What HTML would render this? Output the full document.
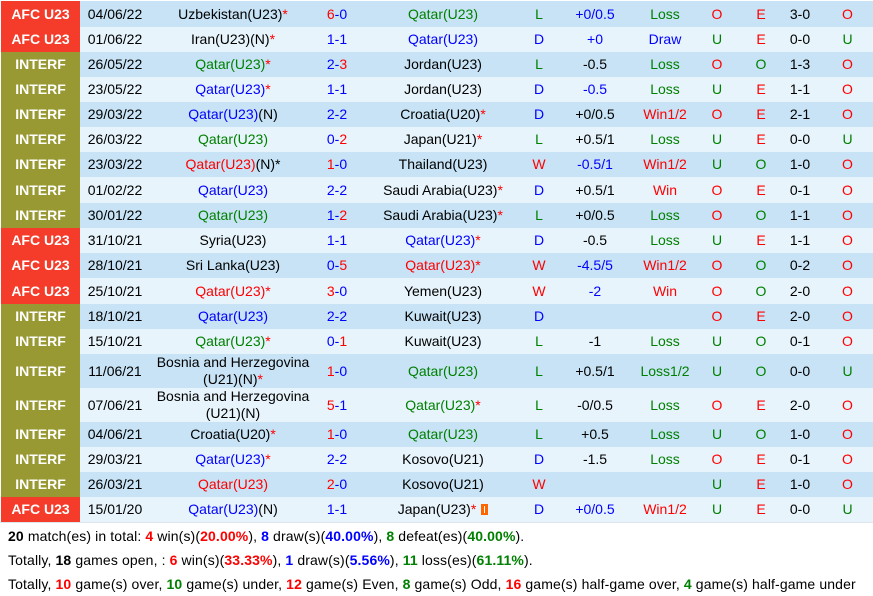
<!DOCTYPE html>
<html><head><meta charset="utf-8"><style>
*{margin:0;padding:0;box-sizing:border-box}
body{width:873px;height:592px;background:#fff;font-family:"Liberation Sans",Arial,sans-serif;font-size:14px;color:#000;overflow:hidden;position:relative}
table{position:absolute;left:1px;top:1px;border-collapse:collapse;table-layout:fixed;width:872px}
td{padding:0;text-align:center;vertical-align:middle;white-space:nowrap;line-height:17px;overflow:visible}
tr.d td{background:#c7e3f5}
tr.l td{background:#e7f4fc}
td.a{background:#f53b2a!important;color:#fff;font-weight:bold}
td.i{background:#999933!important;color:#fff;font-weight:bold}
.r{color:#f00}.b{color:#00f}.g{color:#008000}.k{color:#000}
.ic{display:inline-block;width:7px;height:11px;background:#f60;vertical-align:-1px;margin-left:5px;position:relative}
.ic:after{content:"";position:absolute;left:3px;top:2px;width:1px;height:7px;background:#fff}
.bl{position:absolute;left:0;top:522px;width:873px;height:1px;background:#dde6ec}
.t{position:absolute;left:8px;white-space:nowrap;line-height:24px;letter-spacing:0.12px}
.t b{font-weight:bold}
</style></head><body>
<table>
<colgroup><col style="width:79px"><col style="width:70px"><col style="width:166px"><col style="width:42px"><col style="width:170px"><col style="width:22px"><col style="width:90px"><col style="width:50px"><col style="width:54px"><col style="width:34px"><col style="width:44px"><col style="width:51px"></colgroup>
<tr class="d" style="height:26px"><td class="a">AFC U23</td><td>04/06/22</td><td>Uzbekistan(U23)<span class="r">*</span></td><td><span class="r">6</span><span class="b">-0</span></td><td class="g">Qatar(U23)</td><td class="g">L</td><td class="b">+0/0.5</td><td class="g">Loss</td><td class="r">O</td><td class="r">E</td><td>3-0</td><td class="r">O</td></tr>
<tr class="l" style="height:25px"><td class="a">AFC U23</td><td>01/06/22</td><td>Iran(U23)(N)<span class="r">*</span></td><td class="b">1-1</td><td class="b">Qatar(U23)</td><td class="b">D</td><td class="b">+0</td><td class="b">Draw</td><td class="g">U</td><td class="r">E</td><td>0-0</td><td class="g">U</td></tr>
<tr class="d" style="height:25px"><td class="i">INTERF</td><td>26/05/22</td><td><span class="g">Qatar(U23)</span><span class="r">*</span></td><td><span class="b">2-</span><span class="r">3</span></td><td>Jordan(U23)</td><td class="g">L</td><td>-0.5</td><td class="g">Loss</td><td class="r">O</td><td class="g">O</td><td>1-3</td><td class="r">O</td></tr>
<tr class="l" style="height:25px"><td class="i">INTERF</td><td>23/05/22</td><td><span class="b">Qatar(U23)</span><span class="r">*</span></td><td class="b">1-1</td><td>Jordan(U23)</td><td class="b">D</td><td class="b">-0.5</td><td class="g">Loss</td><td class="g">U</td><td class="r">E</td><td>1-1</td><td class="r">O</td></tr>
<tr class="d" style="height:25px"><td class="i">INTERF</td><td>29/03/22</td><td><span class="b">Qatar(U23)</span>(N)</td><td class="b">2-2</td><td>Croatia(U20)<span class="r">*</span></td><td class="b">D</td><td>+0/0.5</td><td class="r">Win1/2</td><td class="r">O</td><td class="r">E</td><td>2-1</td><td class="r">O</td></tr>
<tr class="l" style="height:25px"><td class="i">INTERF</td><td>26/03/22</td><td class="g">Qatar(U23)</td><td><span class="b">0-</span><span class="r">2</span></td><td>Japan(U21)<span class="r">*</span></td><td class="g">L</td><td>+0.5/1</td><td class="g">Loss</td><td class="g">U</td><td class="r">E</td><td>0-0</td><td class="g">U</td></tr>
<tr class="d" style="height:25px"><td class="i">INTERF</td><td>23/03/22</td><td><span class="r">Qatar(U23)</span>(N)*</td><td><span class="r">1</span><span class="b">-0</span></td><td>Thailand(U23)</td><td class="r">W</td><td class="b">-0.5/1</td><td class="r">Win1/2</td><td class="g">U</td><td class="g">O</td><td>1-0</td><td class="r">O</td></tr>
<tr class="l" style="height:26px"><td class="i">INTERF</td><td>01/02/22</td><td class="b">Qatar(U23)</td><td class="b">2-2</td><td>Saudi Arabia(U23)<span class="r">*</span></td><td class="b">D</td><td>+0.5/1</td><td class="r">Win</td><td class="r">O</td><td class="r">E</td><td>0-1</td><td class="r">O</td></tr>
<tr class="d" style="height:25px"><td class="i">INTERF</td><td>30/01/22</td><td class="g">Qatar(U23)</td><td><span class="b">1-</span><span class="r">2</span></td><td>Saudi Arabia(U23)<span class="r">*</span></td><td class="g">L</td><td>+0/0.5</td><td class="g">Loss</td><td class="r">O</td><td class="g">O</td><td>1-1</td><td class="r">O</td></tr>
<tr class="l" style="height:25px"><td class="a">AFC U23</td><td>31/10/21</td><td>Syria(U23)</td><td class="b">1-1</td><td><span class="b">Qatar(U23)</span><span class="r">*</span></td><td class="b">D</td><td>-0.5</td><td class="g">Loss</td><td class="g">U</td><td class="r">E</td><td>1-1</td><td class="r">O</td></tr>
<tr class="d" style="height:25px"><td class="a">AFC U23</td><td>28/10/21</td><td>Sri Lanka(U23)</td><td><span class="b">0-</span><span class="r">5</span></td><td class="r">Qatar(U23)*</td><td class="r">W</td><td class="b">-4.5/5</td><td class="r">Win1/2</td><td class="r">O</td><td class="g">O</td><td>0-2</td><td class="r">O</td></tr>
<tr class="l" style="height:26px"><td class="a">AFC U23</td><td>25/10/21</td><td class="r">Qatar(U23)*</td><td><span class="r">3</span><span class="b">-0</span></td><td>Yemen(U23)</td><td class="r">W</td><td class="b">-2</td><td class="r">Win</td><td class="r">O</td><td class="g">O</td><td>2-0</td><td class="r">O</td></tr>
<tr class="d" style="height:25px"><td class="i">INTERF</td><td>18/10/21</td><td class="b">Qatar(U23)</td><td class="b">2-2</td><td>Kuwait(U23)</td><td class="b">D</td><td></td><td></td><td class="r">O</td><td class="r">E</td><td>2-0</td><td class="r">O</td></tr>
<tr class="l" style="height:25px"><td class="i">INTERF</td><td>15/10/21</td><td><span class="g">Qatar(U23)</span><span class="r">*</span></td><td><span class="b">0-</span><span class="r">1</span></td><td>Kuwait(U23)</td><td class="g">L</td><td>-1</td><td class="g">Loss</td><td class="g">U</td><td class="g">O</td><td>0-1</td><td class="r">O</td></tr>
<tr class="d" style="height:34px"><td class="i">INTERF</td><td>11/06/21</td><td>Bosnia and Herzegovina<br>(U21)(N)<span class="r">*</span></td><td><span class="r">1</span><span class="b">-0</span></td><td class="g">Qatar(U23)</td><td class="g">L</td><td>+0.5/1</td><td class="g">Loss1/2</td><td class="g">U</td><td class="g">O</td><td>0-0</td><td class="g">U</td></tr>
<tr class="l" style="height:34px"><td class="i">INTERF</td><td>07/06/21</td><td>Bosnia and Herzegovina<br>(U21)(N)</td><td><span class="r">5</span><span class="b">-1</span></td><td><span class="g">Qatar(U23)</span><span class="r">*</span></td><td class="g">L</td><td>-0/0.5</td><td class="g">Loss</td><td class="r">O</td><td class="r">E</td><td>2-0</td><td class="r">O</td></tr>
<tr class="d" style="height:25px"><td class="i">INTERF</td><td>04/06/21</td><td>Croatia(U20)<span class="r">*</span></td><td><span class="r">1</span><span class="b">-0</span></td><td class="g">Qatar(U23)</td><td class="g">L</td><td>+0.5</td><td class="g">Loss</td><td class="g">U</td><td class="g">O</td><td>1-0</td><td class="r">O</td></tr>
<tr class="l" style="height:25px"><td class="i">INTERF</td><td>29/03/21</td><td><span class="b">Qatar(U23)</span><span class="r">*</span></td><td class="b">2-2</td><td>Kosovo(U21)</td><td class="b">D</td><td>-1.5</td><td class="g">Loss</td><td class="r">O</td><td class="r">E</td><td>0-1</td><td class="r">O</td></tr>
<tr class="d" style="height:25px"><td class="i">INTERF</td><td>26/03/21</td><td class="r">Qatar(U23)</td><td><span class="r">2</span><span class="b">-0</span></td><td>Kosovo(U21)</td><td class="r">W</td><td></td><td></td><td class="g">U</td><td class="r">E</td><td>1-0</td><td class="r">O</td></tr>
<tr class="l" style="height:25px"><td class="a">AFC U23</td><td>15/01/20</td><td><span class="b">Qatar(U23)</span>(N)</td><td class="b">1-1</td><td>Japan(U23)<span class="r">*</span><span class="ic"></span></td><td class="b">D</td><td class="b">+0/0.5</td><td class="r">Win1/2</td><td class="g">U</td><td class="r">E</td><td>0-0</td><td class="g">U</td></tr>
</table>
<div class="bl"></div>
<div class="t" style="top:524px"><b>20</b> match(es) in total: <b class="r">4</b> win(s)(<b class="r">20.00%</b>), <b class="b">8</b> draw(s)(<b class="b">40.00%</b>), <b class="g">8</b> defeat(es)(<b class="g">40.00%</b>).</div>
<div class="t" style="top:548px">Totally, <b>18</b> games open, : <b class="r">6</b> win(s)(<b class="r">33.33%</b>), <b class="b">1</b> draw(s)(<b class="b">5.56%</b>), <b class="g">11</b> loss(es)(<b class="g">61.11%</b>).</div>
<div class="t" style="top:572px">Totally, <b class="r">10</b> game(s) over, <b class="g">10</b> game(s) under, <b class="r">12</b> game(s) Even, <b class="g">8</b> game(s) Odd, <b class="r">16</b> game(s) half-game over, <b class="g">4</b> game(s) half-game under</div>
</body></html>
